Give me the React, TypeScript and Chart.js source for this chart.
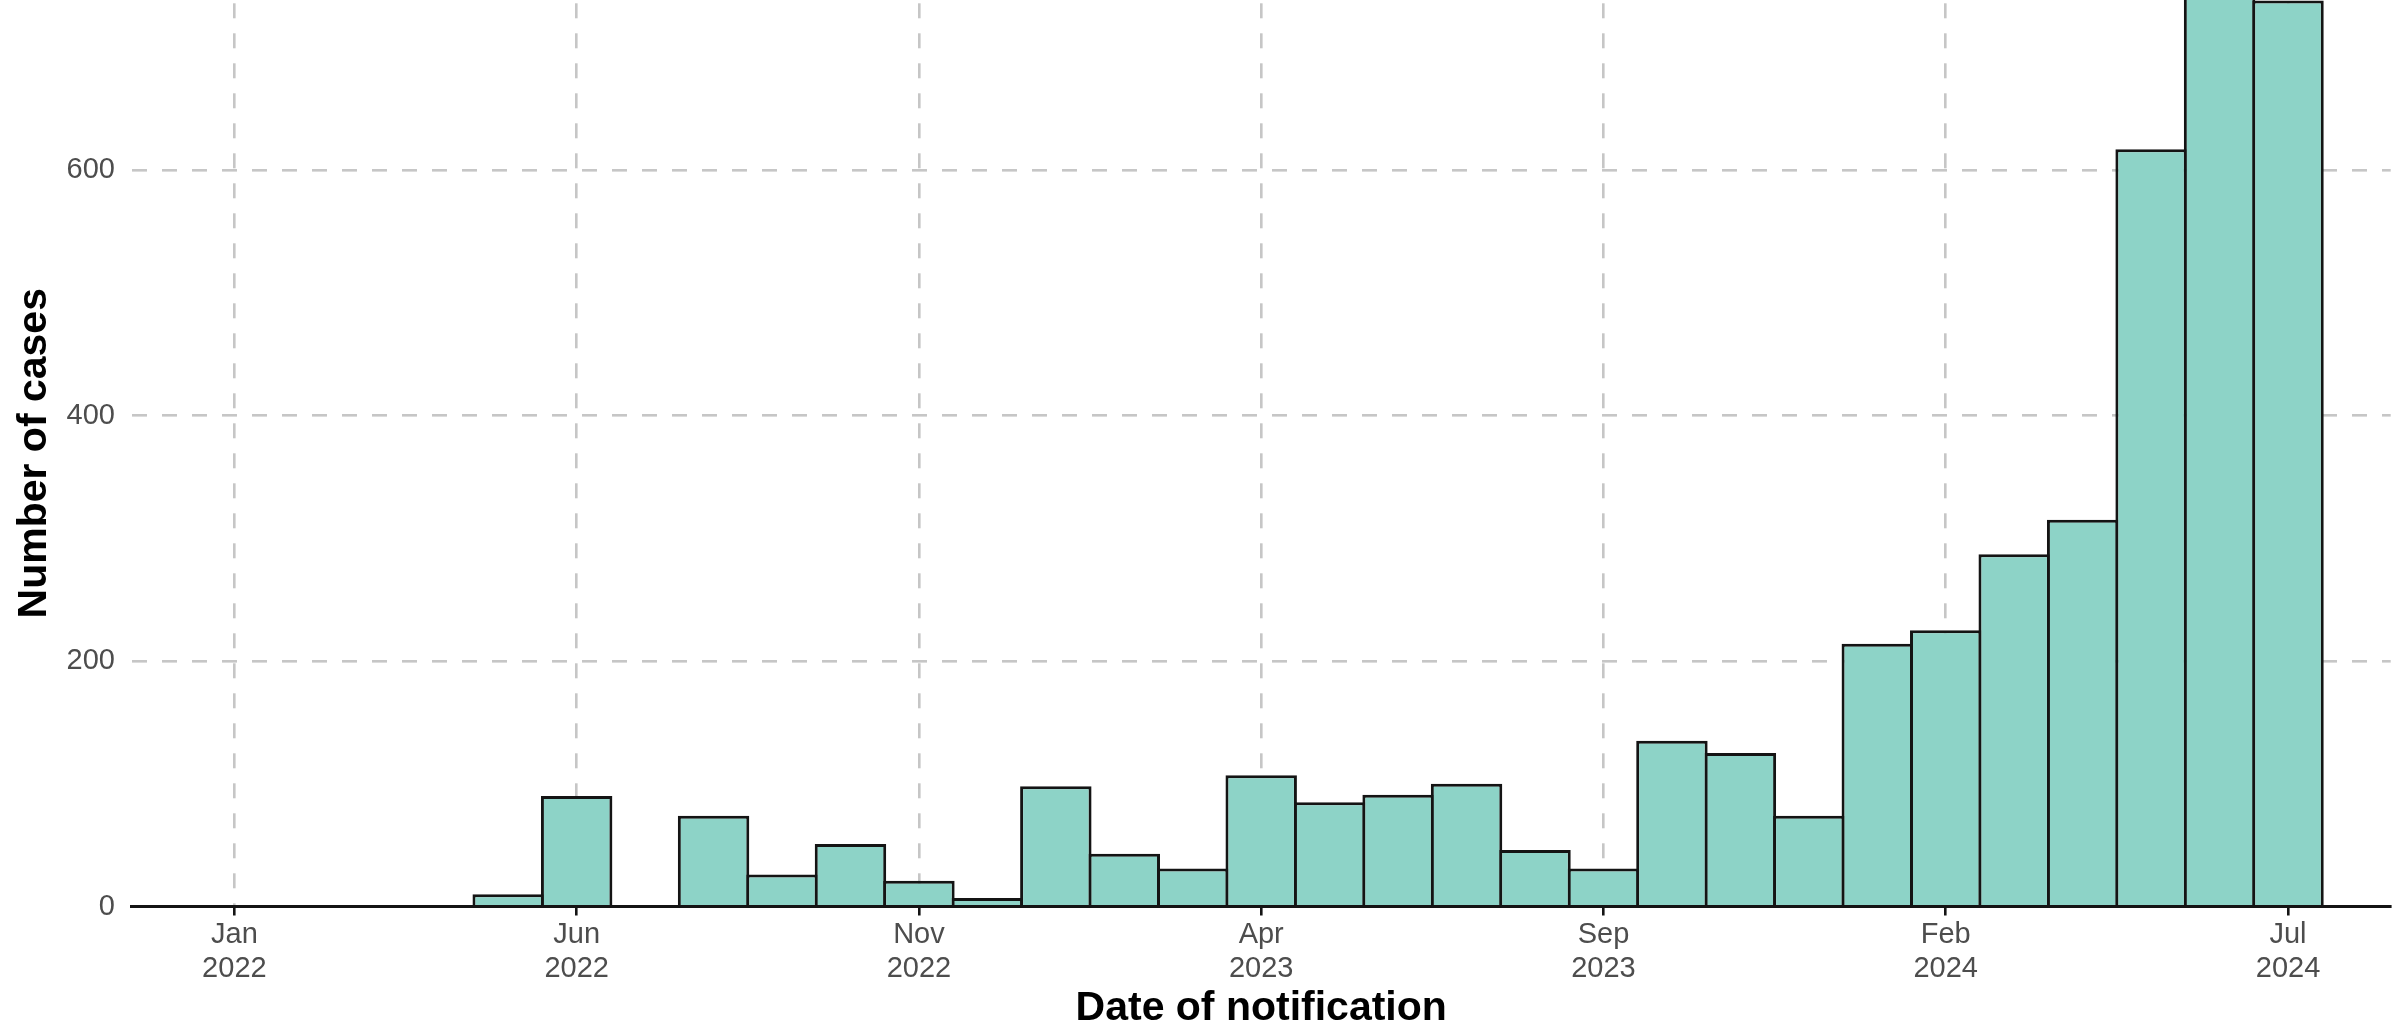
import React, { useEffect, useRef } from 'react';
import { Chart, registerables } from 'chart.js';

Chart.register(...registerables);

// ---- Data ----
const monthKeys = [
  '2022-05', '2022-06', '2022-07', '2022-08', '2022-09', '2022-10', '2022-11', '2022-12',
  '2023-01', '2023-02', '2023-03', '2023-04', '2023-05', '2023-06', '2023-07', '2023-08',
  '2023-09', '2023-10', '2023-11', '2023-12', '2024-01', '2024-02', '2024-03', '2024-04',
  '2024-05', '2024-06', '2024-07',
];
const caseCounts = [
  10, 90, 0, 74, 26, 51, 21, 7,
  98, 43, 31, 107, 85, 91, 100, 46,
  31, 135, 125, 74, 214, 225, 287, 315,
  617, 790, 738,
];
const tickMonthKeys = ['2022-01', '2022-06', '2022-11', '2023-04', '2023-09', '2024-02', '2024-07'];
const tickMonthNames = ['Jan', 'Jun', 'Nov', 'Apr', 'Sep', 'Feb', 'Jul'];
const tickYears = ['2022', '2022', '2022', '2023', '2023', '2024', '2024'];
const yTickValues = [0, 200, 400, 600];
const xAxisTitle = 'Date of notification';
const yAxisTitle = 'Number of cases';

const BASE_YEAR = 2022;
const monthIndex = (key: string) => {
  const [y, m] = key.split('-').map(Number);
  return (y - BASE_YEAR) * 12 + (m - 1);
};

const FONT = '"Liberation Sans", Arial, Helvetica, sans-serif';
const GRID_COLOR = '#c6c6c6';
const BAR_BORDER = 3;
const PX_PER_MONTH = 68.45;

export default function App() {
  const canvasRef = useRef<HTMLCanvasElement | null>(null);

  useEffect(() => {
    const canvas = canvasRef.current;
    if (!canvas) return;
    const chart = new Chart(canvas, {
      type: 'bar',
      data: {
        datasets: [
          {
            data: monthKeys.map((k, i) => ({ x: monthIndex(k), y: caseCounts[i] })),
            backgroundColor: '#8DD3C7',
            borderColor: '#141414',
            borderWidth: BAR_BORDER,
            borderSkipped: 'start',
            barPercentage: 1 + BAR_BORDER / PX_PER_MONTH,
            categoryPercentage: 1,
          } as any,
        ],
      },
      options: {
        animation: false,
        responsive: false,
        devicePixelRatio: 1,
        layout: { padding: { left: 0, top: 0, right: 14.3, bottom: 0 } },
        plugins: {
          legend: { display: false },
          tooltip: { enabled: false },
          title: { display: false },
        },
        scales: {
          x: {
            type: 'linear',
            min: -1.5,
            max: 31.5,
            offset: false,
            grid: {
              offset: false,
              color: GRID_COLOR,
              lineWidth: 2.6,
              drawTicks: true,
              tickLength: 9,
              tickColor: '#141414',
              tickWidth: 2.6,
            },
            border: { display: true, color: '#141414', width: 3, dash: [15, 15], dashOffset: 26.7, z: 1 },
            ticks: {
              autoSkip: false,
              maxRotation: 0,
              minRotation: 0,
              padding: 3,
              color: '#4d4d4d',
              font: { family: FONT, size: 29, lineHeight: 1.15 },
              callback: (_v: any, i: number) => [tickMonthNames[i], tickYears[i]],
            },
            afterBuildTicks: (s: any) => {
              s.ticks = tickMonthKeys.map((k) => ({ value: monthIndex(k) }));
            },
            afterFit: (s: any) => {
              s.height = 123.5;
              s.paddingLeft = 0;
              s.paddingRight = 0;
              s.paddingTop = 0;
              s.paddingBottom = 0;
            },
            title: {
              display: true,
              text: xAxisTitle,
              color: '#000',
              font: { family: FONT, size: 41, weight: 'bold', lineHeight: 1 },
              padding: { top: 0, bottom: 0.4 },
            },
          } as any,
          y: {
            type: 'linear',
            min: 0,
            max: 738.5,
            grid: {
              color: (c: any) => (c.tick && c.tick.value === 0 ? 'rgba(0,0,0,0)' : GRID_COLOR),
              lineWidth: 2.6,
              drawTicks: false,
            },
            border: { display: false, dash: [15, 15], dashOffset: 0 },
            ticks: {
              padding: 16.7,
              color: '#4d4d4d',
              font: { family: FONT, size: 29 },
              callback: (v: any) => String(v),
            },
            afterBuildTicks: (s: any) => {
              s.ticks = yTickValues.map((v) => ({ value: v }));
            },
            afterFit: (s: any) => {
              s.width = 131.7;
              s.paddingLeft = 0;
              s.paddingRight = 0;
              s.paddingTop = 0;
              s.paddingBottom = 0;
            },
            title: {
              display: true,
              text: yAxisTitle,
              color: '#000',
              font: { family: FONT, size: 41, weight: 'bold', lineHeight: 1 },
              padding: { top: 13.8, bottom: 0 },
            },
          } as any,
        },
      },
    });
    return () => chart.destroy();
  }, []);

  return (
    <div style={{ position: 'absolute', left: 0, top: 0, width: 2405, height: 1030, background: '#fff' }}>
      <canvas ref={canvasRef} width={2405} height={1030} style={{ display: 'block' }} />
    </div>
  );
}
